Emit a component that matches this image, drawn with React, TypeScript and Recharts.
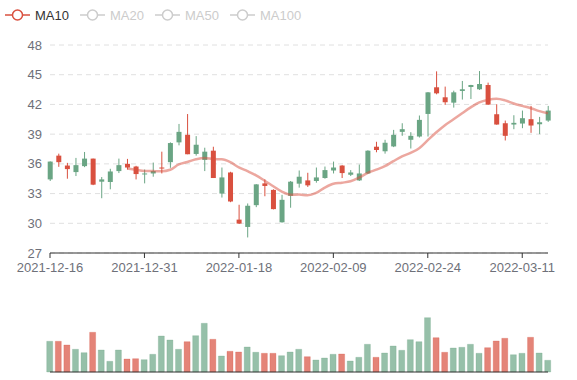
import React from 'react';
import { ComposedChart, Bar, Line, XAxis, YAxis, CartesianGrid, Cell } from 'recharts';

const dates = [
  '2021-12-16', '2021-12-17', '2021-12-20', '2021-12-21', '2021-12-22', '2021-12-23', '2021-12-24', '2021-12-27',
  '2021-12-28', '2021-12-29', '2021-12-30', '2021-12-31', '2022-01-04', '2022-01-05', '2022-01-06', '2022-01-07',
  '2022-01-10', '2022-01-11', '2022-01-12', '2022-01-13', '2022-01-14', '2022-01-17', '2022-01-18', '2022-01-19',
  '2022-01-20', '2022-01-21', '2022-01-24', '2022-01-25', '2022-01-26', '2022-01-27', '2022-01-28', '2022-02-07',
  '2022-02-08', '2022-02-09', '2022-02-10', '2022-02-11', '2022-02-14', '2022-02-15', '2022-02-16', '2022-02-17',
  '2022-02-18', '2022-02-21', '2022-02-22', '2022-02-23', '2022-02-24', '2022-02-25', '2022-02-28', '2022-03-01',
  '2022-03-02', '2022-03-03', '2022-03-04', '2022-03-07', '2022-03-08', '2022-03-09', '2022-03-10', '2022-03-11',
  '2022-03-14', '2022-03-15', '2022-03-16',
];

const opens = [
  34.43, 36.83, 35.83, 35.17, 35.77, 36.53, 34.2, 34.17, 35.27, 36.0,
  35.73, 34.97, 35.03, 35.63, 36.17, 38.17, 38.93, 37.0, 36.4, 37.33,
  33.0, 35.13, 30.37, 29.63, 31.83, 34.03, 33.37, 30.1, 32.77, 34.0,
  34.33, 34.27, 34.57, 35.33, 35.83, 34.9, 34.33, 35.03, 37.73, 37.27,
  37.76, 39.23, 38.43, 38.76, 41.04, 43.73, 42.72, 42.18, 43.36, 43.76,
  43.53, 43.96, 41.01, 40.1, 39.97, 40.07, 40.51, 40.0, 40.37,
];

const closes = [
  36.23, 36.17, 35.47, 35.87, 36.53, 33.9, 34.43, 35.23, 35.87, 35.63,
  34.97, 35.03, 35.27, 35.63, 38.1, 39.23, 36.97, 37.93, 37.23, 34.57,
  34.63, 32.2, 29.97, 31.77, 33.93, 33.77, 31.43, 32.37, 34.2, 34.7,
  33.83, 34.63, 35.37, 35.63, 35.07, 35.13, 35.03, 37.33, 37.4, 38.13,
  38.93, 39.5, 38.83, 40.44, 43.22, 43.12, 42.22, 43.22, 43.53, 43.96,
  44.06, 41.98, 39.97, 38.83, 40.14, 40.61, 39.87, 40.2, 41.38,
];

const lows = [
  34.27, 35.7, 34.5, 34.77, 35.67, 33.85, 32.53, 33.43, 35.07, 35.43,
  34.43, 34.03, 34.7, 35.03, 35.6, 37.87, 36.97, 36.83, 35.27, 34.57,
  32.6, 32.13, 29.93, 28.57, 31.63, 32.73, 31.4, 30.07, 31.57, 33.6,
  33.67, 34.1, 34.5, 35.03, 34.57, 34.77, 34.27, 34.97, 37.17, 37.03,
  37.69, 38.83, 37.55, 38.66, 38.76, 43.02, 41.95, 41.68, 42.49, 42.55,
  43.46, 41.95, 39.95, 38.36, 39.5, 39.6, 39.13, 39.0, 40.24,
];

const highs = [
  36.25, 37.03, 36.1, 36.6, 37.2, 36.53, 34.67, 35.5, 36.53, 36.5,
  35.8, 35.43, 36.13, 37.23, 38.17, 40.03, 41.03, 38.8, 37.63, 37.73,
  35.63, 35.2, 31.87, 32.0, 33.95, 34.43, 33.43, 32.87, 34.27, 35.33,
  35.1, 35.63, 35.73, 36.23, 35.87, 35.37, 35.93, 37.37, 38.23, 38.43,
  39.43, 40.1, 39.2, 40.88, 43.25, 45.34, 43.8, 43.39, 44.37, 43.98,
  45.37, 44.2, 42.02, 40.37, 40.91, 41.38, 41.85, 40.74, 41.85,
];

const volumes = [
  307, 307, 270, 227, 193, 397, 220, 107, 220, 130,
  133, 123, 177, 360, 320, 227, 303, 363, 487, 327,
  160, 207, 200, 250, 197, 187, 187, 163, 200, 227,
  153, 120, 140, 177, 180, 110, 147, 277, 147, 190,
  260, 217, 323, 303, 543, 343, 197, 240, 247, 277,
  187, 243, 310, 337, 173, 187, 347, 190, 117,
];

const ma10 = [
  null, null, null, null, null, null, null, null, null, 35.53,
  35.41, 35.29, 35.27, 35.25, 35.4, 35.94, 36.19, 36.46, 36.6, 36.49,
  36.46, 36.17, 35.64, 35.26, 34.84, 34.3, 33.74, 33.19, 32.88, 32.9,
  32.82, 33.06, 33.6, 33.99, 34.1, 34.24, 34.6, 35.09, 35.41, 35.76,
  36.27, 36.75, 37.1, 37.58, 38.39, 39.19, 39.91, 40.5, 41.11, 41.7,
  42.21, 42.46, 42.57, 42.41, 42.1, 41.85, 41.62, 41.32, 41.1,
];

const legendNames = ['MA10', 'MA20', 'MA50', 'MA100'];
const legendActive = [true, false, false, false];
const yTicks = [27, 30, 33, 36, 39, 42, 45, 48];

const UP = '#6aa584';
const DOWN = '#d9503f';
const MA_COLOR = '#d9503f';
const INACTIVE = '#cccccc';
const AXIS = '#6e7079';
const FONT = "'Liberation Sans', Arial, sans-serif";

const data = dates.map((d, i) => ({
  date: d,
  open: opens[i],
  close: closes[i],
  low: lows[i],
  high: highs[i],
  range: [lows[i], highs[i]],
  volume: volumes[i],
  ma10: ma10[i],
  volUp: !(opens[i] > closes[i]),
}));

const Candle = (props: any) => {
  const { x, y, width, height, payload } = props;
  if (!payload || x == null || y == null) return null;
  const { open, close, low, high } = payload;
  const yTop = Math.min(y, y + height);
  const yBot = Math.max(y, y + height);
  const ppu = (yBot - yTop) / (high - low);
  const bTop = yTop + (high - Math.max(open, close)) * ppu;
  const bBot = yTop + (high - Math.min(open, close)) * ppu;
  const color = close > open ? UP : DOWN;
  const cx = x + width / 2;
  return (
    <g>
      <line x1={cx} x2={cx} y1={yTop} y2={yBot} stroke={color} strokeWidth={1} />
      <rect x={x} y={bTop} width={width} height={Math.max(bBot - bTop, 1)} fill={color} />
    </g>
  );
};

const LegendIcon = ({ color }: { color: string }) => (
  <svg width={25} height={14} style={{ display: 'block' }}>
    <line x1={0} x2={25} y1={7} y2={7} stroke={color} strokeWidth={1.5} />
    <circle cx={12.5} cy={7} r={5} fill="#fff" stroke={color} strokeWidth={1.5} />
  </svg>
);

export default function App() {
  return (
    <div style={{ position: 'absolute', left: 0, top: 0, width: 577, height: 380, background: '#fff', fontFamily: FONT }}>
      {legendNames.map((name, i) => (
        <div
          key={name}
          style={{
            position: 'absolute',
            left: 5 + i * 75,
            top: 6,
            height: 18,
            display: 'flex',
            alignItems: 'center',
            gap: 5,
            fontSize: 13,
            color: legendActive[i] ? '#333' : INACTIVE,
          }}
        >
          <LegendIcon color={legendActive[i] ? MA_COLOR : INACTIVE} />
          <span>{name}</span>
        </div>
      ))}
      <div style={{ position: 'absolute', left: 0, top: 0 }}>
        <ComposedChart width={577} height={290} data={data} margin={{ top: 45, right: 29, bottom: 7, left: 0 }}>
          <CartesianGrid vertical={false} stroke="#e0e0e0" strokeDasharray="5 4" />
          <XAxis
            dataKey="date"
            scale="point"
            padding={{ left: 0, right: 0 }}
            interval={10}
            height={30}
            tickSize={5}
            tickMargin={5}
            stroke={AXIS}
            axisLine={{ stroke: '#333' }}
            tickLine={{ stroke: '#333' }}
            tick={{ fill: AXIS, fontSize: 13, fontFamily: FONT }}
          />
          <YAxis
            domain={[27, 48]}
            ticks={yTicks}
            width={50}
            axisLine={false}
            tickLine={false}
            tickMargin={2}
            tick={{ fill: AXIS, fontSize: 13, fontFamily: FONT }}
          />
          <Bar dataKey="range" barSize={5} shape={Candle} isAnimationActive={false} />
          <Line
            dataKey="ma10"
            type="monotone"
            dot={false}
            stroke={MA_COLOR}
            strokeOpacity={0.5}
            strokeWidth={2.5}
            isAnimationActive={false}
          />
        </ComposedChart>
      </div>
      <div style={{ position: 'absolute', left: 0, top: 290 }}>
        <ComposedChart width={577} height={90} data={data} margin={{ top: 10, right: 29, bottom: 0, left: 50 }}>
          <XAxis
            dataKey="date"
            scale="point"
            padding={{ left: 0, right: 0 }}
            height={8}
            tick={false}
            tickLine={false}
            axisLine={{ stroke: '#333' }}
          />
          <YAxis hide domain={[0, 720]} />
          <Bar dataKey="volume" barSize={6} isAnimationActive={false}>
            {data.map((d, i) => (
              <Cell
                key={i}
                fill={d.volUp ? UP : DOWN}
                fillOpacity={0.7}
                stroke={d.volUp ? UP : DOWN}
                strokeOpacity={0.25}
                strokeWidth={1}
              />
            ))}
          </Bar>
        </ComposedChart>
      </div>
    </div>
  );
}
